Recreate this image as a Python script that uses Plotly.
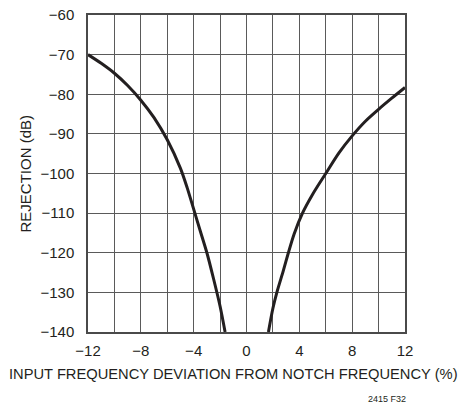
import plotly.graph_objects as go

# left branch of the notch (deviation %, rejection dB)
left_dev = [-12, -11, -10, -9, -8, -7, -6, -5, -4.5, -4, -3.5, -3, -2.5, -2, -1.62]
left_rej = [-70, -72.2, -74.7, -77.8, -81.5, -85.9, -91.5, -98.7, -103.5, -109, -114.5, -120, -126.5, -133.5, -140]

# right branch of the notch
right_dev = [1.66, 2, 2.3, 2.8, 3.17, 3.6, 4.24, 5, 6, 7, 8, 9, 10, 11, 12]
right_rej = [-140, -134, -130, -124.4, -120, -115.3, -110, -105.3, -100, -94.8, -90.5, -86.8, -83.8, -81, -78.3]

x_ticks = list(range(-12, 13, 2))
x_labels = [(str(v).replace('-', '\u2212') if v % 4 == 0 else '') for v in x_ticks]
y_ticks = list(range(-140, -59, 10))
y_labels = [str(v).replace('-', '\u2212') for v in y_ticks]

font_name = 'Liberation Sans Narrow, Liberation Sans, Arial, sans-serif'

# plot area in pixels (page body margin is removed below)
L, R, T, B = 88, 405, 15, 332
W, H = R - L, B - T
FW, FH = 474, 409

fig = go.Figure()
for xs, ys in [(left_dev, left_rej), (right_dev, right_rej)]:
    fig.add_trace(go.Scatter(
        x=xs, y=ys, mode='lines',
        line=dict(color='#231f20', width=3, shape='spline', smoothing=0.8),
        showlegend=False, hoverinfo='skip'
    ))

fig.update_layout(
    width=FW, height=FH,
    margin=dict(l=L, r=FW - R, t=T, b=FH - B),
    plot_bgcolor='white', paper_bgcolor='white',
    font=dict(family=font_name, size=15, color='#231f20'),
    annotations=[
        dict(text='INPUT FREQUENCY DEVIATION FROM NOTCH FREQUENCY (%)',
             x=(233 - L) / W, y=(B - 374) / H, xref='paper', yref='paper',
             showarrow=False, font=dict(size=14.7), xanchor='center', yanchor='middle'),
        dict(text='REJECTION (dB)', textangle=-90,
             x=(25 - L) / W, y=0.5, xref='paper', yref='paper',
             showarrow=False, font=dict(size=15), xanchor='center', yanchor='middle'),
        dict(text='2415 F32', x=(387 - L) / W, y=(B - 399) / H,
             xref='paper', yref='paper', showarrow=False,
             font=dict(size=9), xanchor='center', yanchor='middle'),
    ]
)

fig.update_xaxes(
    range=[-12, 12], tickvals=x_ticks, ticktext=x_labels,
    showgrid=True, gridcolor='#5a5a5a', gridwidth=1,
    showline=True, linecolor='#4a4a4a', linewidth=1.5, mirror=True,
    zeroline=False, ticks='', ticklabelstandoff=4, automargin=False,
    ticklabeloverflow='allow', tickfont=dict(size=15)
)
fig.update_yaxes(
    range=[-140, -60], tickvals=y_ticks, ticktext=y_labels,
    showgrid=True, gridcolor='#5a5a5a', gridwidth=1,
    showline=True, linecolor='#4a4a4a', linewidth=1.5, mirror=True,
    zeroline=False, ticks='', ticklabelstandoff=9, automargin=False,
    ticklabeloverflow='allow', tickfont=dict(size=15)
)

fig.write_html('out.html', config={'displayModeBar': False},
               post_script="document.body.style.margin='0';")
